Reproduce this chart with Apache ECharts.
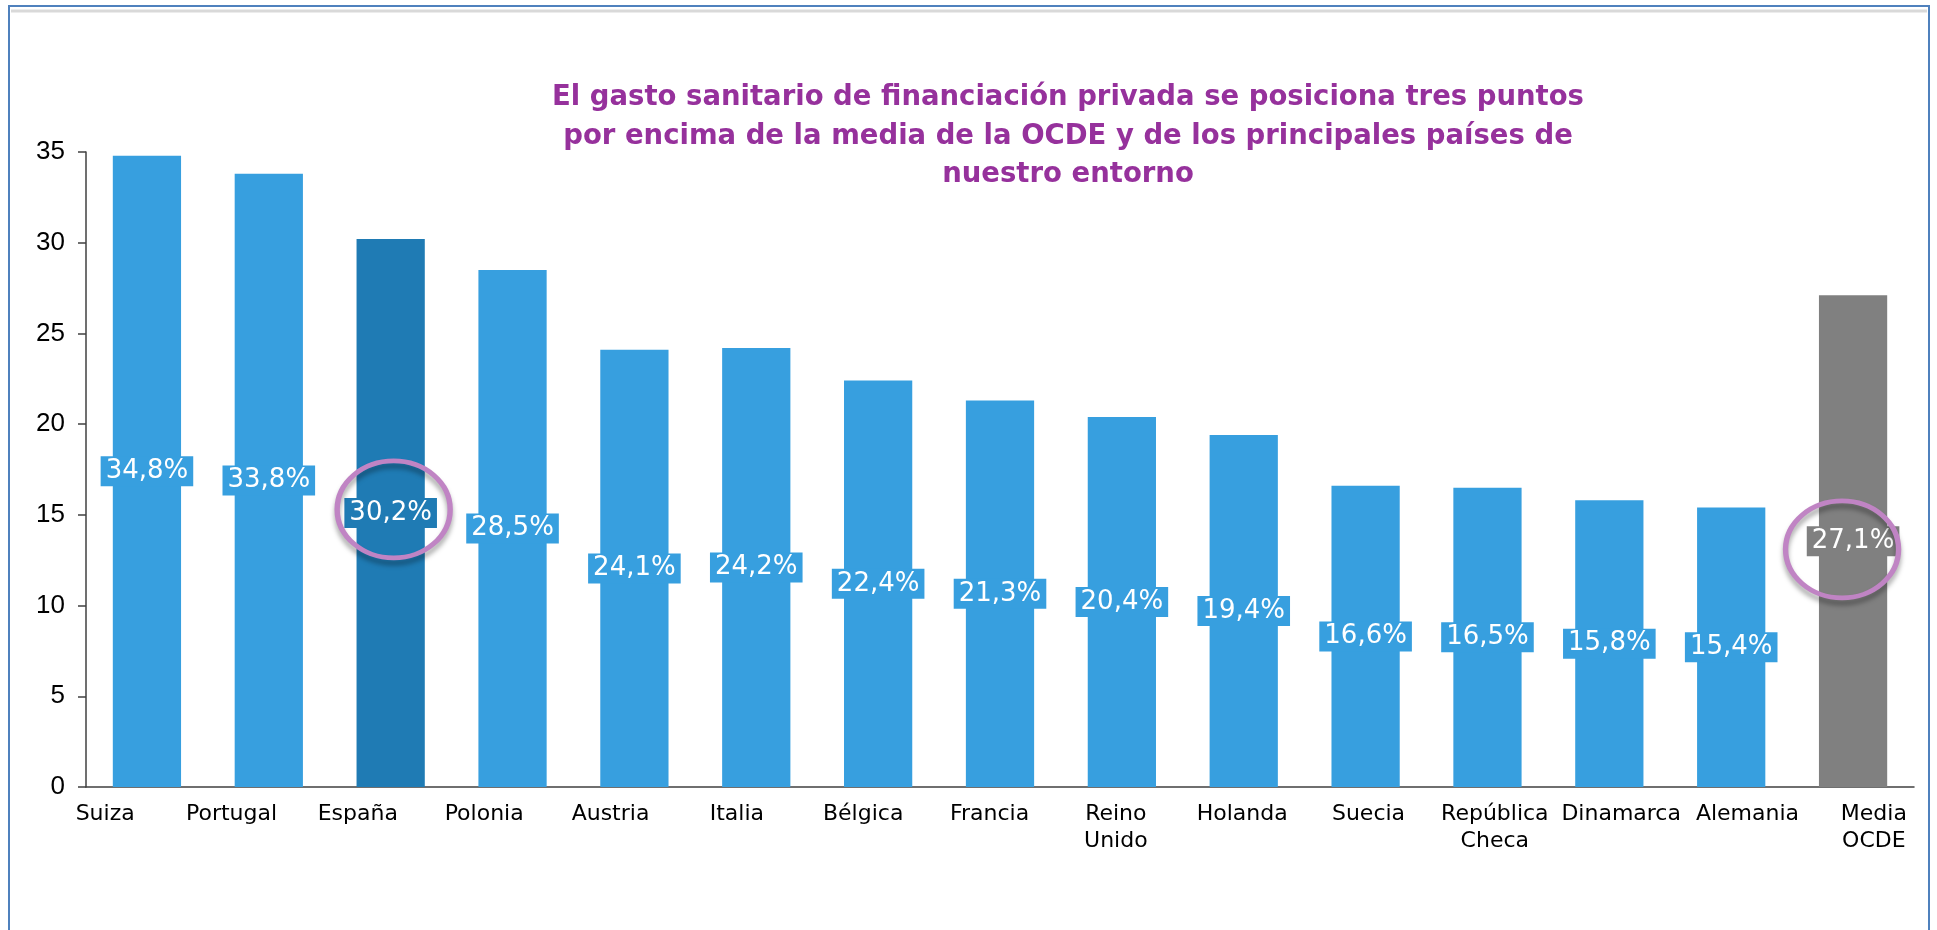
<!DOCTYPE html>
<html>
<head>
<meta charset="utf-8">
<title>Gasto sanitario privado</title>
<script src="https://cdn.jsdelivr.net/npm/echarts@6/dist/echarts.min.js"></script>
<style>
  html, body { margin: 0; padding: 0; background: #fff; }
  #main { width: 1937px; height: 930px; }
</style>
</head>
<body>
<div id="main"></div>
<script>
// datos (% del gasto sanitario de financiación privada)
const paises = ['Suiza', 'Portugal', 'España', 'Polonia', 'Austria', 'Italia', 'Bélgica', 'Francia',
  'Reino\nUnido', 'Holanda', 'Suecia', 'República\nCheca', 'Dinamarca', 'Alemania', 'Media\nOCDE'];
const gastoPrivado = [34.8, 33.8, 30.2, 28.5, 24.1, 24.2, 22.4, 21.3, 20.4, 19.4, 16.6, 16.5, 15.8, 15.4, 27.1];
const ticksY = [0, 5, 10, 15, 20, 25, 30, 35];
// elipses de resalte: [índice categoría, valor]
const resaltes = [[2, 15.3], [14, 13.1]];

const azul = '#379FDF';
const azulEspana = '#1F7BB4';
const gris = '#808080';

function colorBarra(i) {
  if (paises[i] === 'España') return azulEspana;
  if (i === paises.length - 1) return gris;
  return azul;
}

const chart = echarts.init(document.getElementById('main'));

const datosBarras = gastoPrivado.map(function (v, i) {
  return {
    value: v,
    itemStyle: { color: colorBarra(i) },
    label: { backgroundColor: colorBarra(i) }
  };
});

const option = {
  animation: false,
  backgroundColor: '#fff',
  title: {
    text: 'El gasto sanitario de financiación privada se posiciona tres puntos\npor encima de la media de la OCDE y de los principales países de\nnuestro entorno',
    left: 1068,
    top: 79,
    padding: 0,
    textAlign: 'center',
    textStyle: {
      fontFamily: 'DejaVu Sans',
      fontWeight: 'bold',
      fontSize: 27.5,
      lineHeight: 38.5,
      color: '#96319C'
    }
  },
  graphic: [
    { type: 'rect', silent: true, shape: { x: 9, y: 6, width: 1920, height: 1000 },
      style: { fill: null, stroke: '#4F81BD', lineWidth: 2 } },
    { type: 'line', silent: true, shape: { x1: 11, y1: 11, x2: 1927, y2: 11 },
      style: { stroke: '#D9D9D9', lineWidth: 3 } }
  ],
  grid: [
    { left: 86, right: 23, top: 152, bottom: 143 },
    { left: 42, width: 1911, top: 152, bottom: 143 }
  ],
  xAxis: [
    {
      type: 'category',
      gridIndex: 0,
      data: paises,
      axisLine: { lineStyle: { color: '#404040', width: 1.5 } },
      axisTick: { show: false },
      axisLabel: { show: false }
    },
    {
      // etiquetas repartidas como en el original
      type: 'category',
      gridIndex: 1,
      data: paises,
      axisLine: { show: false },
      axisTick: { show: false },
      axisLabel: {
        interval: 0,
        margin: 14,
        fontFamily: 'DejaVu Sans',
        fontSize: 22,
        lineHeight: 27,
        color: '#000'
      }
    }
  ],
  yAxis: [
    {
      type: 'value',
      gridIndex: 0,
      min: ticksY[0],
      max: ticksY[ticksY.length - 1],
      interval: ticksY[1] - ticksY[0],
      axisLine: { show: true, lineStyle: { color: '#404040', width: 1.5 } },
      axisTick: { show: true, length: 8, lineStyle: { color: '#404040', width: 1.5 } },
      splitLine: { show: false },
      axisLabel: {
        margin: 21,
        fontFamily: 'Liberation Sans',
        fontSize: 26,
        color: '#000'
      }
    },
    { type: 'value', gridIndex: 1, show: false, min: 0, max: 35 }
  ],
  series: [
    {
      type: 'bar',
      xAxisIndex: 0,
      yAxisIndex: 0,
      data: datosBarras,
      barCategoryGap: '44%',
      label: {
        show: true,
        position: 'inside',
        color: '#fff',
        fontFamily: 'DejaVu Sans',
        fontSize: 26,
        lineHeight: 26,
        padding: [2, 5],
        formatter: function (p) {
          return p.value.toFixed(1).replace('.', ',') + '%';
        }
      },
      markPoint: {
        symbol: 'circle',
        symbolSize: [113, 97],
        label: { show: false },
        itemStyle: {
          color: 'rgba(0,0,0,0)',
          borderColor: '#C084C4',
          borderWidth: 5,
          shadowColor: 'rgba(0,0,0,0.35)',
          shadowBlur: 5,
          shadowOffsetY: 5
        },
        data: resaltes.map(function (r, k) {
          return { coord: r, symbolOffset: [k === 0 ? 3 : -11, 0] };
        })
      }
    }
  ]
};

chart.setOption(option);
</script>
</body>
</html>
